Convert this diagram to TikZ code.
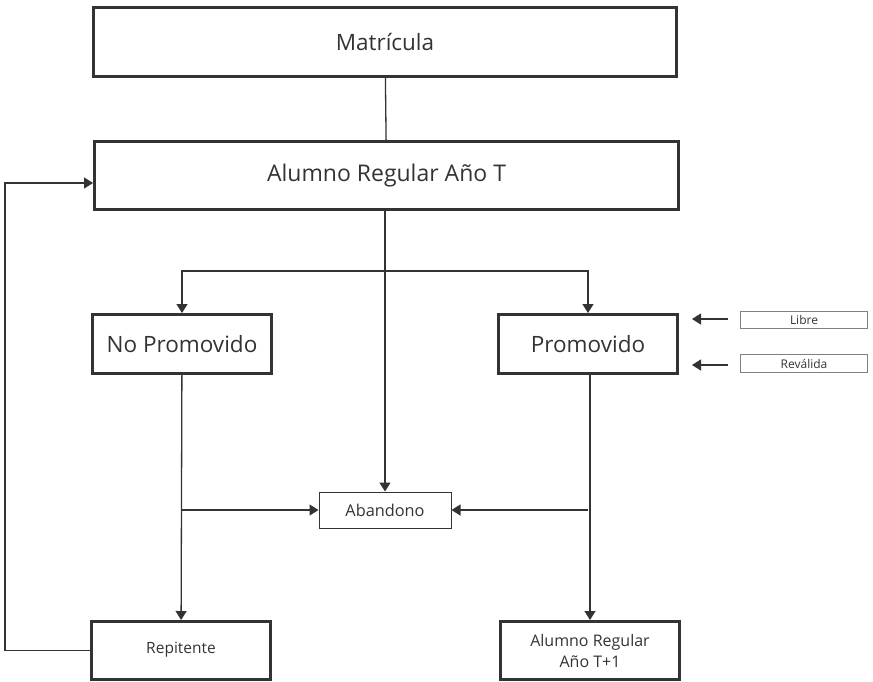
\documentclass[tikz,border=0pt]{standalone}
\usepackage{fontspec}
\setmainfont{Open Sans}
\usetikzlibrary{arrows.meta}
\definecolor{ink}{HTML}{333333}
\tikzset{
	stage/.style={draw=ink, line width=3pt, rectangle, align=center, text=ink, inner sep=0pt},
	small/.style={draw=ink, line width=1pt, rectangle, align=center, text=ink, inner sep=0pt},
	tag/.style={draw=gray, line width=1.5pt, rectangle, text=ink, inner sep=0pt, font=\fontsize{12}{14}\selectfont},
	arr/.style={draw=ink, line width=1.3pt, -{Triangle[width=11pt,length=9pt]}},
	ln/.style={draw=ink, line width=1.3pt}
}
\begin{document}
\begin{tikzpicture}[x=1pt,y=-1pt]
	\useasboundingbox (0,0) rectangle (873,681);
	\node[stage, minimum width=583pt, minimum height=69pt, font=\fontsize{22.5}{27}\selectfont] (M) at (385,42) {Matrícula};
	\node[stage, minimum width=584pt, minimum height=68pt, font=\fontsize{23}{28}\selectfont] (A) at (386.5,175.5) {Alumno Regular Año T};
	\node[stage, minimum width=179pt, minimum height=59pt, font=\fontsize{22.5}{27}\selectfont] (NP) at (182,344) {No Promovido};
	\node[stage, minimum width=179pt, minimum height=59pt, font=\fontsize{22.5}{27}\selectfont] (P) at (588,344) {Promovido};
	\node[tag, minimum width=127pt, minimum height=17pt] (L) at (804,320) {Libre};
	\node[tag, minimum width=127pt, minimum height=18pt] (RV) at (804,363.5) {Reválida};
	\node[small, minimum width=132pt, minimum height=36pt, font=\fontsize{16.3}{20}\selectfont] (AB) at (385,510) {Abandono};
	\node[stage, minimum width=179pt, minimum height=58pt, font=\fontsize{15.5}{19}\selectfont] (R) at (181,650.5) {\raisebox{5pt}{Repitente}};
	\node[stage, minimum width=179pt, minimum height=58pt, font=\fontsize{16}{21}\selectfont] (A1) at (590,650.5) {Alumno Regular\\Año T+1};
	
	\coordinate (split) at (386,271);
	\coordinate (loop) at (5,183);
	\coordinate (lfrom) at (728,319);
	\coordinate (lto) at (692,319);
	\coordinate (rfrom) at (728,365);
	\coordinate (rto) at (692,365);
	
	\path[ln] (M) -- (A);
	\path[arr] (A.south -| AB.north) -- (AB.north);
	\path[arr] (split) -| (NP.north);
	\path[arr] (split) -| (P.north);
	\path[arr] (NP) -- (R);
	\path[arr] (P.south -| A1.north) -- (A1.north);
	\path[arr] (NP.south |- AB.west) -- (AB.west);
	\path[arr] (P.south |- AB.east) -- (AB.east);
	\path[arr] (lfrom) -- (lto);
	\path[arr] (rfrom) -- (rto);
	\path[arr] (R.west) -| (loop) -- (A.west |- loop);
\end{tikzpicture}
\end{document}
